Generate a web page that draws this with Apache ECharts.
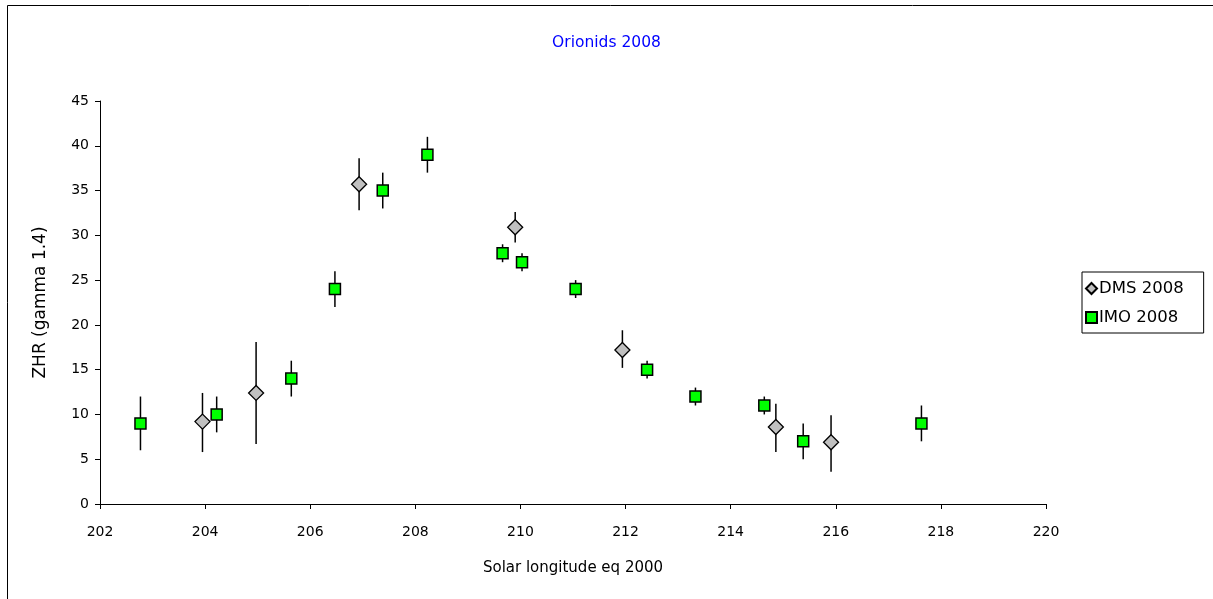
<!DOCTYPE html>
<html>
<head>
<meta charset="utf-8">
<script src="https://cdn.jsdelivr.net/npm/echarts@6/dist/echarts.min.js"></script>
<style>html,body{margin:0;padding:0;background:#fff;}#c{width:1213px;height:599px;}</style>
</head>
<body>
<div id="c"></div>
<script>
// Data
var xTicks = [202, 204, 206, 208, 210, 212, 214, 216, 218, 220];
var yTicks = [0, 5, 10, 15, 20, 25, 30, 35, 40, 45];

var dmsX    = [203.95, 204.97, 206.93, 209.90, 211.94, 214.86, 215.91];
var dmsY    = [9.2, 12.4, 35.7, 30.9, 17.2, 8.6, 6.9];
var dmsLow  = [5.8, 6.7, 32.8, 29.2, 15.2, 5.8, 3.6];
var dmsHigh = [12.4, 18.1, 38.6, 32.6, 19.4, 11.2, 9.9];

var imoX   = [202.77, 204.22, 205.64, 206.47, 207.38, 208.23, 209.66, 210.03, 211.05, 212.41, 213.33, 214.64, 215.38, 217.63];
var imoY   = [9, 10, 14, 24, 35, 39, 28, 27, 24, 15, 12, 11, 7, 9];
var imoErr = [3, 2, 2, 2, 2, 2, 1, 1, 1, 1, 1, 1, 2, 2];

var FONT = 'DejaVu Sans, Verdana, sans-serif';

var dmsPts = dmsX.map(function (x, i) { return [x, dmsY[i]]; });
var imoPts = imoX.map(function (x, i) { return [x, imoY[i]]; });
var errBars = [];
dmsX.forEach(function (x, i) { errBars.push([x, dmsLow[i], dmsHigh[i]]); });
imoX.forEach(function (x, i) { errBars.push([x, imoY[i] - imoErr[i], imoY[i] + imoErr[i]]); });

var chart = echarts.init(document.getElementById('c'));
chart.setOption({
  backgroundColor: '#fff',
  animation: false,
  graphic: [{
    type: 'rect', silent: true, z: -10,
    shape: { x: 7.5, y: 5.5, width: 1230, height: 640 },
    style: { fill: 'none', stroke: '#000', lineWidth: 1 }
  }],
  title: {
    text: 'Orionids 2008', left: 'center', top: 30,
    textStyle: { color: '#0000FF', fontFamily: FONT, fontSize: 15.5, fontWeight: 'normal' }
  },
  legend: {
    orient: 'vertical', left: 1082, top: 272,
    data: ['DMS 2008', 'IMO 2008'],
    borderColor: '#000', borderWidth: 1, borderRadius: 0,
    padding: [7, 20, 6, 3], itemGap: 10, itemWidth: 11, itemHeight: 11,
    textStyle: { fontFamily: FONT, fontSize: 16.5, color: '#000', lineHeight: 19, padding: [0, 0, 0, -3] }
  },
  grid: { left: 100, right: 167, top: 101, bottom: 95, containLabel: false },
  xAxis: {
    type: 'value', min: xTicks[0], max: xTicks[xTicks.length - 1], interval: 2,
    name: 'Solar longitude eq 2000', nameLocation: 'middle', nameGap: 57,
    nameTextStyle: { fontFamily: FONT, fontSize: 15, color: '#000' },
    axisLine: { onZero: false, lineStyle: { color: '#000', width: 1 } },
    axisTick: { show: true, inside: false, length: 5, lineStyle: { color: '#000' } },
    axisLabel: { fontFamily: FONT, fontSize: 14, color: '#000', margin: 21 },
    splitLine: { show: false }
  },
  yAxis: {
    type: 'value', min: yTicks[0], max: yTicks[yTicks.length - 1], interval: 5,
    name: 'ZHR (gamma 1.4)', nameLocation: 'middle', nameGap: 51, nameRotate: 90,
    nameTextStyle: { fontFamily: FONT, fontSize: 17, color: '#000' },
    axisLine: { show: true, lineStyle: { color: '#000', width: 1 } },
    axisTick: { show: true, inside: false, length: 5, lineStyle: { color: '#000' } },
    axisLabel: { fontFamily: FONT, fontSize: 14, color: '#000', margin: 11 },
    splitLine: { show: false }
  },
  series: [
    {
      type: 'custom', name: 'err', silent: true, z: 1,
      data: errBars,
      renderItem: function (params, api) {
        var x = api.value(0);
        var p1 = api.coord([x, api.value(1)]);
        var p2 = api.coord([x, api.value(2)]);
        return {
          type: 'line',
          shape: { x1: p1[0], y1: p1[1], x2: p2[0], y2: p2[1] },
          style: { stroke: '#000', lineWidth: 1.5 }
        };
      }
    },
    {
      type: 'scatter', name: 'DMS 2008', z: 3,
      symbol: 'diamond', symbolSize: 15,
      itemStyle: { color: '#C0C0C0', borderColor: '#000', borderWidth: 1.3, opacity: 1 },
      data: dmsPts
    },
    {
      type: 'scatter', name: 'IMO 2008', z: 3,
      symbol: 'rect', symbolSize: 11,
      itemStyle: { color: '#00FF00', borderColor: '#000', borderWidth: 1.5, opacity: 1 },
      data: imoPts
    }
  ]
});
</script>
</body>
</html>
